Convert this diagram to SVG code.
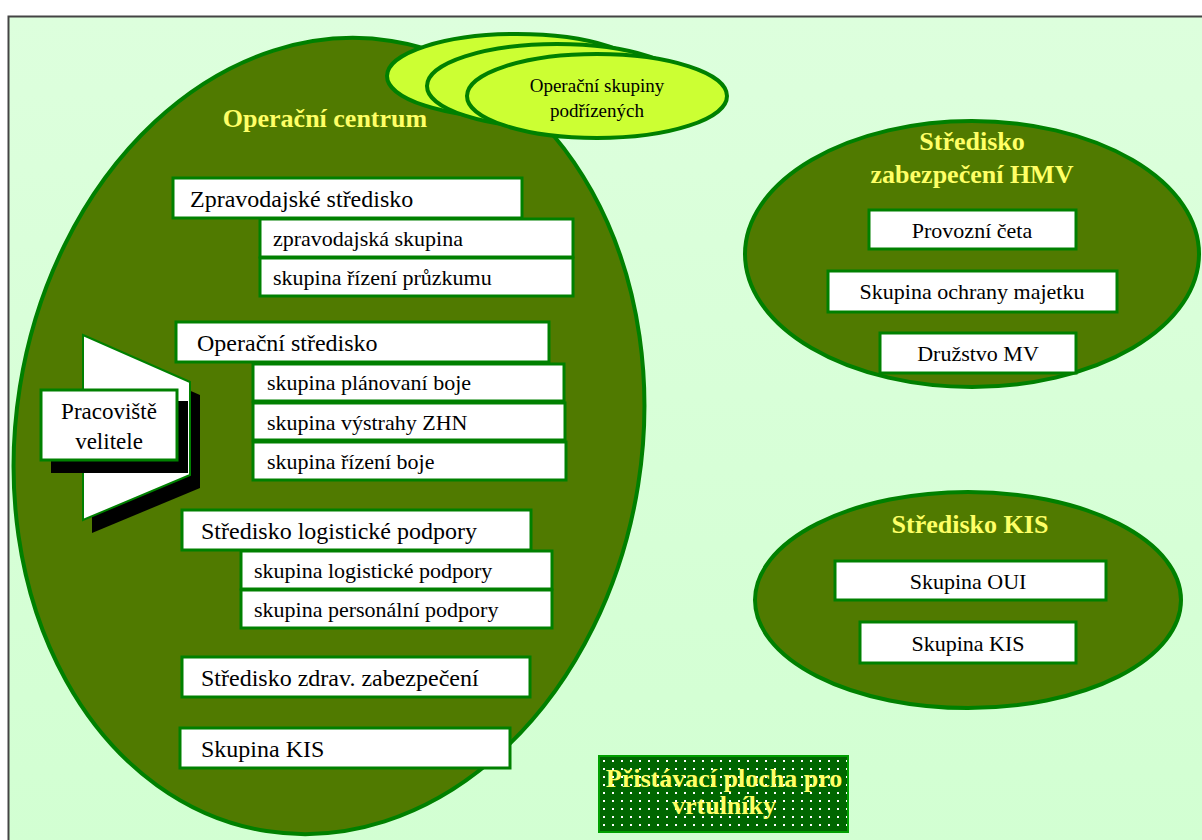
<svg xmlns="http://www.w3.org/2000/svg" width="1202" height="840" viewBox="0 0 1202 840">
<defs>
<linearGradient id="bg" x1="0" y1="0" x2="0" y2="1">
<stop offset="0" stop-color="#ddffdd"/>
<stop offset="1" stop-color="#d2ffd2"/>
</linearGradient>
<pattern id="dots" x="600" y="757" width="9" height="8" patternUnits="userSpaceOnUse">
<rect x="3" y="3" width="2" height="2" fill="#ffffff"/>
</pattern>
</defs>
<style>
.big{fill:#507a00;stroke:#008000;stroke-width:4}
.sub{fill:#ccff33;stroke:#008000;stroke-width:4}
.box{fill:#ffffff;stroke:#008000;stroke-width:3}
.t{font-family:"Liberation Serif","Times New Roman","DejaVu Serif",serif;fill:#000000}
.h{font-size:24px}
.s{font-size:22px}
.r{font-size:22px;text-anchor:middle}
.title{font-family:"Liberation Serif","Times New Roman","DejaVu Serif",serif;font-weight:bold;font-size:26px;fill:#ffff66;text-anchor:middle}
</style>
<rect x="0" y="0" width="1202" height="840" fill="#ffffff"/>
<rect x="8.5" y="16.5" width="1200" height="830" fill="url(#bg)" stroke="#444444" stroke-width="2"/>

<g id="operacni-centrum">
<ellipse class="big" cx="329" cy="436" rx="313" ry="400" transform="rotate(9 329 436)"/>
<text class="title" x="325" y="127">Operační centrum</text>
</g>

<g id="operacni-skupiny">
<ellipse class="sub" cx="517" cy="76" rx="130" ry="42"/>
<ellipse class="sub" cx="557" cy="86" rx="130" ry="42"/>
<ellipse class="sub" cx="597" cy="96" rx="130" ry="42"/>
<text class="t" x="597" y="92" font-size="19" text-anchor="middle">Operační skupiny</text>
<text class="t" x="597" y="117" font-size="19" text-anchor="middle">podřízených</text>
</g>

<g id="zpravodajske-stredisko">
<rect class="box" x="173" y="178" width="349" height="40"/>
<text class="t h" x="190" y="207">Zpravodajské středisko</text>
</g>
<g id="zpravodajska-skupina">
<rect class="box" x="260" y="219" width="313" height="38"/>
<text class="t s" x="273" y="246">zpravodajská skupina</text>
</g>
<g id="skupina-rizeni-pruzkumu">
<rect class="box" x="260" y="258" width="313" height="38"/>
<text class="t s" x="273" y="285">skupina řízení průzkumu</text>
</g>

<g id="operacni-stredisko">
<rect class="box" x="176" y="322" width="373" height="40"/>
<text class="t h" x="197" y="351">Operační středisko</text>
</g>
<g id="skupina-planovani-boje">
<rect class="box" x="253" y="364" width="311" height="37"/>
<text class="t s" x="267" y="390">skupina plánovaní boje</text>
</g>
<g id="skupina-vystrahy-zhn">
<rect class="box" x="253" y="403" width="312" height="37"/>
<text class="t s" x="267" y="430">skupina výstrahy ZHN</text>
</g>
<g id="skupina-rizeni-boje">
<rect class="box" x="253" y="442" width="313" height="38"/>
<text class="t s" x="267" y="469">skupina řízení boje</text>
</g>

<g id="stredisko-logisticke-podpory">
<rect class="box" x="182" y="510" width="349" height="40"/>
<text class="t h" x="201" y="539">Středisko logistické podpory</text>
</g>
<g id="skupina-logisticke-podpory">
<rect class="box" x="241" y="551" width="311" height="38"/>
<text class="t s" x="254" y="578">skupina logistické podpory</text>
</g>
<g id="skupina-personalni-podpory">
<rect class="box" x="241" y="590" width="311" height="38"/>
<text class="t s" x="254" y="617">skupina personální podpory</text>
</g>

<g id="stredisko-zdrav">
<rect class="box" x="182" y="657" width="348" height="40"/>
<text class="t h" x="201" y="686">Středisko zdrav. zabezpečení</text>
</g>
<g id="skupina-kis-oc">
<rect class="box" x="180" y="728" width="330" height="40"/>
<text class="t h" x="201" y="757">Skupina KIS</text>
</g>

<g id="pracoviste-velitele">
<polygon points="92,348 200,395 200,488 92,533" fill="#000000"/>
<polygon points="83,335 190,382 190,475 83,520" fill="#ffffff" stroke="#008000" stroke-width="2"/>
<rect x="51" y="401" width="137" height="72" fill="#000000"/>
<rect class="box" x="41" y="390" width="136" height="70"/>
<text class="t" x="109" y="419" font-size="23" text-anchor="middle">Pracoviště</text>
<text class="t" x="109" y="449" font-size="23" text-anchor="middle">velitele</text>
</g>

<g id="stredisko-hmv">
<ellipse class="big" cx="972" cy="254" rx="227" ry="133"/>
<text class="title" x="972" y="150">Středisko</text>
<text class="title" x="972" y="183">zabezpečení HMV</text>
</g>
<g id="provozni-ceta">
<rect class="box" x="869" y="210" width="207" height="39"/>
<text class="t r" x="972" y="238">Provozní četa</text>
</g>
<g id="skupina-ochrany-majetku">
<rect class="box" x="828" y="271" width="289" height="41"/>
<text class="t r" x="972" y="299">Skupina ochrany majetku</text>
</g>
<g id="druzstvo-mv">
<rect class="box" x="880" y="333" width="196" height="40"/>
<text class="t r" x="978" y="361">Družstvo MV</text>
</g>

<g id="stredisko-kis">
<ellipse class="big" cx="968" cy="600" rx="213" ry="108"/>
<text class="title" x="970" y="533">Středisko KIS</text>
</g>
<g id="skupina-oui">
<rect class="box" x="835" y="561" width="271" height="39"/>
<text class="t r" x="968" y="589">Skupina OUI</text>
</g>
<g id="skupina-kis-r">
<rect class="box" x="860" y="622" width="216" height="41"/>
<text class="t r" x="968" y="651">Skupina KIS</text>
</g>

<g id="pristavaci-plocha">
<rect x="599" y="756" width="249" height="76" fill="#006600" stroke="#00a000" stroke-width="2"/>
<rect x="600" y="757" width="247" height="74" fill="url(#dots)"/>
<text class="title" x="724" y="787" font-size="19">Přistávací plocha pro</text>
<text class="title" x="724" y="814" font-size="19">vrtulníky</text>
</g>

<g id="connectors"></g>
</svg>
